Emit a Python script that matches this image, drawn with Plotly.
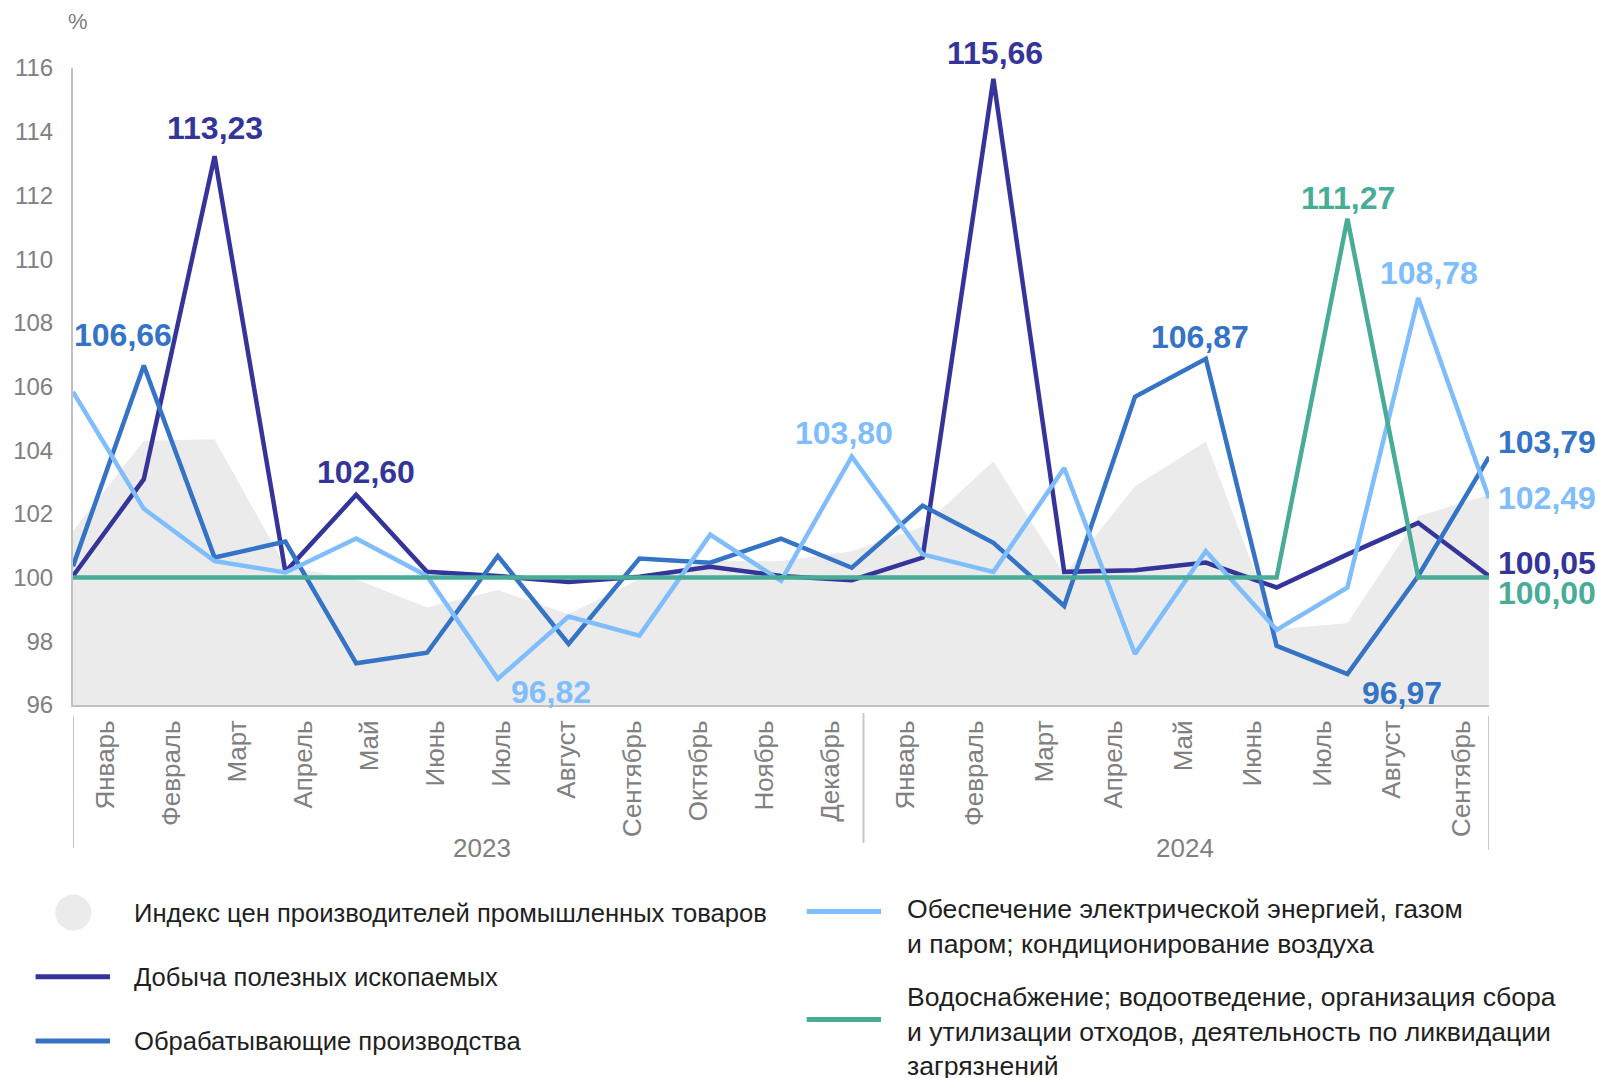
import plotly.graph_objects as go

# ---------------- data ----------------
months = ["Январь", "Февраль", "Март", "Апрель", "Май", "Июнь", "Июль", "Август",
          "Сентябрь", "Октябрь", "Ноябрь", "Декабрь"]
month_labels = months + months[:9]
years = ["2023", "2024"]
x_idx = list(range(21))

ppi = [101.46, 104.30, 104.34, 100.35, 99.95, 99.06, 99.61, 98.85, 99.95, 100.52, 100.52,
       100.83, 101.60, 103.65, 100.10, 102.86, 104.27, 98.38, 98.57, 101.93, 102.60]
mining = [100.05, 103.09, 113.23, 100.18, 102.60, 100.18, 100.05, 99.86, 100.03, 100.34, 100.05,
          99.92, 100.63, 115.66, 100.18, 100.23, 100.47, 99.69, 100.73, 101.72, 100.05]
manuf = [100.36, 106.66, 100.63, 101.13, 97.31, 97.64, 100.68, 97.92, 100.60, 100.47, 101.22,
         100.31, 102.26, 101.09, 99.11, 105.68, 106.87, 97.86, 96.97, 100.05, 103.79]
power = [105.83, 102.16, 100.52, 100.16, 101.23, 100.05, 96.82, 98.78, 98.18, 101.35, 99.90,
         103.80, 100.73, 100.18, 103.44, 97.60, 100.83, 98.36, 99.69, 108.78, 102.49]
water = [100.00, 100.00, 100.00, 100.00, 100.00, 100.00, 100.00, 100.00, 100.00, 100.00, 100.00,
         100.00, 100.00, 100.00, 100.00, 100.00, 100.00, 100.00, 111.27, 100.00, 100.00]

names = {
    "ppi": "Индекс цен производителей промышленных товаров",
    "mining": "Добыча полезных ископаемых",
    "manuf": "Обрабатывающие производства",
    "power": "Обеспечение электрической энергией, газом<br>и паром; кондиционирование воздуха",
    "water": "Водоснабжение; водоотведение, организация сбора<br>и утилизации отходов, деятельность по ликвидации<br>загрязнений",
}
series = {"mining": mining, "manuf": manuf, "power": power, "water": water}
colors = {"ppi": "#EBEBEB", "mining": "#34349A", "manuf": "#3473C6",
          "power": "#7FBDFD", "water": "#48AC97"}

# labelled points: (series, index, xshift, yshift, xanchor)
label_specs = [
    ("mining", 2, 0, 28, "center"),
    ("manuf", 1, -21, 30, "center"),
    ("mining", 4, 10, 23, "center"),
    ("power", 6, 53, -13, "center"),
    ("power", 11, -8, 24, "center"),
    ("mining", 13, 2, 26, "center"),
    ("manuf", 16, -6, 22, "center"),
    ("water", 18, 1, 21, "center"),
    ("power", 19, 11, 25, "center"),
    ("manuf", 18, 55, -19, "center"),
    ("manuf", 20, 7, 15, "left"),
    ("power", 20, 7, 0, "left"),
    ("mining", 20, 7, 13, "left"),
    ("water", 20, 7, -15, "left"),
]

FONT = "Liberation Sans, Arial, sans-serif"
W, H = 1597, 1078
ML, MR, MT, MB = 73, 108, 68, 373
PW, PH = W - ML - MR, H - MT - MB


def px(xp):
    return (xp - ML) / PW


def py(yp):
    return (MT + PH - yp) / PH


fig = go.Figure()
fig.add_trace(go.Scatter(x=x_idx, y=ppi, mode="lines", fill="tozeroy",
                         fillcolor=colors["ppi"], line=dict(width=0, color=colors["ppi"]),
                         name=names["ppi"], showlegend=False, hoverinfo="skip"))
for key in ["mining", "manuf", "power", "water"]:
    fig.add_trace(go.Scatter(x=x_idx, y=series[key], mode="lines",
                             line=dict(color=colors[key], width=4.5),
                             name=names[key].replace("<br>", " "), showlegend=False))

annotations = []
for key, i, xs, ys, xa in label_specs:
    v = series[key][i]
    annotations.append(dict(
        x=x_idx[i], y=v, xref="x", yref="y", showarrow=False,
        text="<b>" + f"{v:.2f}".replace(".", ",") + "</b>",
        font=dict(family=FONT, size=32, color=colors[key]),
        xanchor=xa, yanchor="middle", xshift=xs, yshift=ys))

# month tick positions (layout): equal slots inside each year span
boundary = 11.165
tick_pos = [(k + 0.5) * boundary / 12 for k in range(12)] + \
           [boundary + (k + 0.5) * (20 - boundary) / 9 + 0.1 for k in range(9)]
year_pos = [5.78, 15.71]
for yl, xp in zip(years, year_pos):
    annotations.append(dict(x=xp, y=py(848), xref="x", yref="paper", showarrow=False,
                            text=yl, font=dict(family=FONT, size=26, color="#808080"),
                            xanchor="center", yanchor="middle"))

annotations.append(dict(x=px(78), y=py(22), xref="paper", yref="paper", showarrow=False,
                        text="%", font=dict(family=FONT, size=22, color="#808080"),
                        xanchor="center", yanchor="middle"))

shapes = []
for xs_, y0, y1 in [(0, 716, 848), (boundary, 713, 843), (20, 716, 850)]:
    shapes.append(dict(type="line", xref="x", yref="paper", x0=xs_, x1=xs_,
                       y0=py(y0), y1=py(y1), line=dict(color="#C8C8C8", width=2)))

# custom legend
leg_text_color = "#1F1F1F"
shapes.append(dict(type="circle", xref="paper", yref="paper",
                   x0=px(55.3), x1=px(91.3), y0=py(894.6), y1=py(930.6),
                   fillcolor=colors["ppi"], line=dict(width=0)))
for key, x0, x1, yy in [("mining", 35.6, 110, 976.8), ("manuf", 35.6, 110, 1040.9),
                        ("power", 806.7, 881, 911.6), ("water", 806.7, 881, 1019.5)]:
    shapes.append(dict(type="line", xref="paper", yref="paper", x0=px(x0), x1=px(x1),
                       y0=py(yy), y1=py(yy), line=dict(color=colors[key], width=5)))
for key, xx, yy, fs in [("ppi", 131.5, 912.6, 25.6), ("mining", 131.5, 976.8, 25.6),
                        ("manuf", 131.5, 1040.9, 25.6),
                        ("power", 905, 926.5, 26.6), ("water", 905, 1031.5, 26.6)]:
    annotations.append(dict(x=px(xx), y=py(yy), xref="paper", yref="paper", showarrow=False,
                            text=names[key], align="left",
                            font=dict(family=FONT, size=fs, color=leg_text_color),
                            xanchor="left", yanchor="middle"))

fig.update_layout(
    width=W, height=H,
    margin=dict(l=ML, r=MR, t=MT, b=MB, pad=0),
    paper_bgcolor="white", plot_bgcolor="white",
    font=dict(family=FONT, color="#808080"),
    showlegend=False,
    annotations=annotations, shapes=shapes,
    xaxis=dict(range=[0, 20], showgrid=False, zeroline=False, showline=True,
               linecolor="#C0C0C0", linewidth=2, tickmode="array", tickvals=tick_pos,
               ticktext=month_labels, tickangle=-90, ticks="", ticklabelstandoff=3,
               tickfont=dict(family=FONT, size=26, color="#808080")),
    yaxis=dict(range=[96, 116], showgrid=False, zeroline=False, showline=True,
               linecolor="#C0C0C0", linewidth=2, tickmode="array",
               tickvals=[96, 98, 100, 102, 104, 106, 108, 110, 112, 114, 116],
               ticks="", ticklabelstandoff=13,
               tickfont=dict(family=FONT, size=24, color="#808080")),
)

fig.write_html("out.html", config={"displayModeBar": False},
               post_script="document.body.style.margin='0';")
